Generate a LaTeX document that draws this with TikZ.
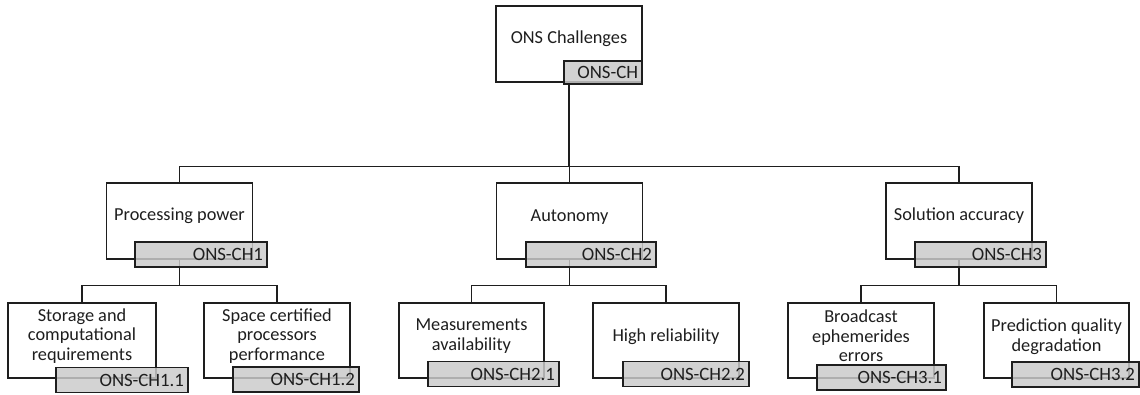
\documentclass[tikz,border=0pt]{standalone}
\usepackage{fontspec}
\setmainfont{Carlito}
\definecolor{idgray}{RGB}{202,202,202}
\definecolor{ink}{RGB}{30,30,30}
\begin{document}
\begin{tikzpicture}[x=1pt,y=-1pt,
  font=\fontsize{18.3}{19.6}\selectfont,
  chbox/.style={draw=ink, line width=1.2pt, fill=white, minimum width=146, minimum height=76, inner sep=0pt},
  idbox/.style={draw=ink, line width=1.2pt, fill=idgray, fill opacity=0.84, text opacity=1,
    minimum height=25, inner xsep=4pt, inner ysep=0pt, align=right, text=ink,
    font=\fontsize{18.8}{20}\selectfont},
  lbl/.style={align=center, inner sep=0pt, text=ink},
  conn/.style={draw=ink, line width=1.4pt}]
\useasboundingbox (0,0) rectangle (1140,394);

% challenge boxes
\node[chbox] (top) at (569,44) {};
\node[chbox] (p) at (179.5,221) {};
\node[chbox] (a) at (569.5,221) {};
\node[chbox] (s) at (959,221) {};
\node[chbox, minimum width=148, minimum height=75] (p1) at (82,340.5) {};
\node[chbox, minimum height=75] (p2) at (277,340.5) {};
\node[chbox, minimum width=145, minimum height=75] (a1) at (471.5,340.5) {};
\node[chbox, minimum height=75] (a2) at (666,340.5) {};
\node[chbox, minimum height=75] (s1) at (861,340.5) {};
\node[chbox, minimum width=145, minimum height=75] (s2) at (1056.5,340.5) {};

% titles
\node[lbl] (top-t) at (569,39) {ONS Challenges};
\node[lbl] (p-t) at (179.5,216) {Processing power};
\node[lbl] (a-t) at (569.5,217) {Autonomy};
\node[lbl] (s-t) at (959,216) {Solution accuracy};
\node[lbl] (p1-t) at (82,336) {Storage and\\computational\\requirements};
\node[lbl] (p2-t) at (277,336) {Space certified\\processors\\performance};
\node[lbl] (a1-t) at (471.5,336) {Measurements\\availability};
\node[lbl] (a2-t) at (666,337) {High reliability};
\node[lbl] (s1-t) at (861,336) {Broadcast\\ephemerides\\errors};
\node[lbl] (s2-t) at (1056.5,337) {Prediction quality\\degradation};

% tree connectors
\foreach \c in {p,a,s}
  \draw[conn] (top.south) -- ++(0,84) -| (\c.north);
\foreach \c/\k in {p/p1,p/p2,a/a1,a/a2,s/s1,s/s2}
  \draw[conn] (\c.south) -- ++(0,26) -| (\k.north);

% identifier tags
\node[idbox, text width=70, minimum height=23] (top-id) at (603,72.5) {ONS-CH};
\node[idbox, text width=124] (p-id) at (201,254.5) {ONS-CH1};
\node[idbox, text width=122] (a-id) at (591,254.5) {ONS-CH2};
\node[idbox, text width=123] (s-id) at (980.5,254.5) {ONS-CH3};
\node[idbox, text width=124] (p1-id) at (122,380) {ONS-CH1.1};
\node[idbox, text width=118] (p2-id) at (296,379.5) {ONS-CH1.2};
\node[idbox, text width=123] (a1-id) at (493.5,374) {ONS-CH2.1};
\node[idbox, text width=118] (a2-id) at (686,374) {ONS-CH2.2};
\node[idbox, text width=121] (s1-id) at (881.5,377.5) {ONS-CH3.1};
\node[idbox, text width=119] (s2-id) at (1075.5,374.5) {ONS-CH3.2};
\end{tikzpicture}
\end{document}
